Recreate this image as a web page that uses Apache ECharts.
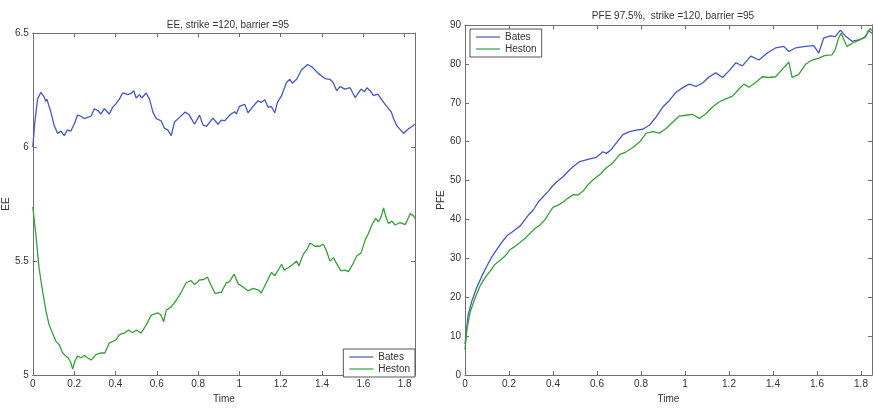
<!DOCTYPE html>
<html>
<head>
<meta charset="utf-8">
<script src="https://cdn.jsdelivr.net/npm/echarts@6/dist/echarts.min.js"></script>
<style>
  html, body { margin: 0; padding: 0; background: #fff; }
  #chart { width: 874px; height: 409px; }
</style>
</head>
<body>
<div id="chart"></div>
<script>
// tick values
const timeTicks = [0, 0.2, 0.4, 0.6, 0.8, 1, 1.2, 1.4, 1.6, 1.8];
const eeTicks = [5, 5.5, 6, 6.5];
const pfeTicks = [0, 10, 20, 30, 40, 50, 60, 70, 80, 90];
const seriesNames = ['Bates', 'Heston'];

// EE, [time, value]
const eeBates = [[0,6.00],[0.01,6.11],[0.023,6.21],[0.039,6.24],[0.055,6.22],[0.062,6.20],[0.068,6.21],[0.087,6.155],[0.103,6.096],[0.12,6.06],[0.136,6.07],[0.152,6.05],[0.168,6.075],[0.184,6.07],[0.2,6.10],[0.217,6.14],[0.233,6.135],[0.249,6.125],[0.265,6.13],[0.282,6.135],[0.298,6.168],[0.314,6.16],[0.33,6.145],[0.346,6.168],[0.37,6.145],[0.387,6.175],[0.403,6.19],[0.419,6.21],[0.435,6.237],[0.46,6.23],[0.475,6.235],[0.489,6.247],[0.5,6.215],[0.516,6.23],[0.527,6.215],[0.549,6.237],[0.565,6.21],[0.581,6.154],[0.597,6.125],[0.621,6.115],[0.637,6.082],[0.653,6.075],[0.67,6.05],[0.686,6.11],[0.71,6.13],[0.738,6.154],[0.758,6.14],[0.783,6.10],[0.807,6.14],[0.824,6.097],[0.84,6.09],[0.872,6.127],[0.896,6.10],[0.913,6.118],[0.929,6.115],[0.953,6.14],[0.977,6.155],[0.985,6.145],[1.0,6.178],[1.026,6.187],[1.042,6.15],[1.066,6.178],[1.09,6.203],[1.106,6.196],[1.123,6.207],[1.139,6.174],[1.155,6.178],[1.171,6.15],[1.184,6.196],[1.204,6.225],[1.228,6.283],[1.244,6.297],[1.256,6.28],[1.277,6.297],[1.30,6.338],[1.33,6.362],[1.35,6.352],[1.382,6.323],[1.414,6.30],[1.438,6.297],[1.454,6.283],[1.471,6.247],[1.487,6.265],[1.511,6.254],[1.536,6.26],[1.56,6.217],[1.589,6.254],[1.605,6.242],[1.617,6.26],[1.633,6.247],[1.649,6.225],[1.67,6.232],[1.698,6.196],[1.722,6.168],[1.735,6.154],[1.746,6.125],[1.762,6.093],[1.795,6.06],[1.819,6.08],[1.835,6.09],[1.85,6.10]];
const eeHeston = [[0,5.737],[0.015,5.615],[0.03,5.471],[0.047,5.37],[0.063,5.284],[0.079,5.22],[0.096,5.184],[0.112,5.148],[0.128,5.133],[0.144,5.098],[0.16,5.083],[0.171,5.076],[0.184,5.055],[0.193,5.026],[0.204,5.062],[0.217,5.083],[0.233,5.076],[0.249,5.086],[0.265,5.076],[0.282,5.066],[0.306,5.09],[0.33,5.097],[0.349,5.097],[0.37,5.141],[0.387,5.148],[0.403,5.155],[0.419,5.177],[0.443,5.184],[0.463,5.198],[0.482,5.187],[0.502,5.198],[0.524,5.184],[0.549,5.22],[0.573,5.263],[0.605,5.273],[0.621,5.263],[0.633,5.234],[0.646,5.284],[0.67,5.299],[0.694,5.327],[0.718,5.363],[0.743,5.406],[0.767,5.414],[0.783,5.397],[0.807,5.417],[0.83,5.42],[0.845,5.43],[0.864,5.392],[0.883,5.357],[0.903,5.363],[0.913,5.363],[0.937,5.406],[0.953,5.41],[0.974,5.443],[0.994,5.40],[1.018,5.386],[1.042,5.369],[1.066,5.38],[1.09,5.374],[1.106,5.36],[1.131,5.406],[1.155,5.45],[1.171,5.436],[1.191,5.465],[1.204,5.486],[1.217,5.46],[1.236,5.471],[1.26,5.486],[1.277,5.50],[1.288,5.478],[1.309,5.529],[1.33,5.555],[1.341,5.579],[1.366,5.565],[1.39,5.565],[1.406,5.575],[1.422,5.543],[1.438,5.50],[1.455,5.514],[1.471,5.489],[1.492,5.457],[1.511,5.46],[1.528,5.454],[1.547,5.483],[1.568,5.522],[1.589,5.536],[1.609,5.593],[1.625,5.622],[1.641,5.658],[1.66,5.687],[1.673,5.672],[1.686,5.694],[1.698,5.733],[1.709,5.694],[1.722,5.665],[1.738,5.675],[1.754,5.658],[1.778,5.669],[1.803,5.66],[1.827,5.708],[1.843,5.698],[1.85,5.687]];

// PFE 97.5%, [time, value]
const pfeBates = [[0,8],[0.005,10.4],[0.014,15.4],[0.032,19.2],[0.054,22.6],[0.077,25.5],[0.1,28.1],[0.122,30.4],[0.145,32.3],[0.167,34.1],[0.19,35.8],[0.213,36.7],[0.235,37.7],[0.25,38.3],[0.265,39.4],[0.288,41.1],[0.311,42.5],[0.333,44.5],[0.356,45.9],[0.379,47.3],[0.401,48.8],[0.424,50.0],[0.446,51.0],[0.469,52.4],[0.492,53.6],[0.522,54.9],[0.567,55.6],[0.597,56.0],[0.627,57.4],[0.643,57.0],[0.665,58.0],[0.688,59.7],[0.718,61.8],[0.748,62.6],[0.778,63.0],[0.808,63.2],[0.839,64.3],[0.869,66.4],[0.899,68.9],[0.929,70.6],[0.959,72.7],[0.99,73.9],[1.02,74.8],[1.05,74.2],[1.08,75.1],[1.11,76.7],[1.14,77.7],[1.171,76.5],[1.2,78.2],[1.231,80.3],[1.261,79.5],[1.299,82.0],[1.336,81.0],[1.374,82.8],[1.412,84.1],[1.449,84.5],[1.472,83.2],[1.502,84.1],[1.548,84.5],[1.585,84.7],[1.608,82.8],[1.63,86.6],[1.66,87.2],[1.683,87.0],[1.706,88.7],[1.729,87.2],[1.759,85.8],[1.789,86.2],[1.819,86.8],[1.834,88.6],[1.85,87.9]];
const pfeHeston = [[0,6.5],[0.009,12.0],[0.024,16.3],[0.047,20.0],[0.069,23.0],[0.092,25.1],[0.115,26.8],[0.137,28.5],[0.16,29.5],[0.182,30.6],[0.205,32.3],[0.228,33.1],[0.25,34.1],[0.273,35.2],[0.296,36.5],[0.318,37.7],[0.341,38.6],[0.363,39.9],[0.386,42.0],[0.401,43.2],[0.424,43.7],[0.446,44.5],[0.469,45.5],[0.492,46.4],[0.514,46.3],[0.537,47.3],[0.56,49.0],[0.59,50.6],[0.612,51.5],[0.643,53.3],[0.673,54.6],[0.703,56.7],[0.733,57.4],[0.763,58.5],[0.793,59.9],[0.824,62.2],[0.854,62.6],[0.884,62.2],[0.914,63.4],[0.944,65.0],[0.974,66.6],[1.005,66.8],[1.035,67.0],[1.065,66.0],[1.095,67.2],[1.125,68.9],[1.155,70.2],[1.186,71.0],[1.216,71.7],[1.246,73.6],[1.268,74.8],[1.291,74.0],[1.321,75.2],[1.351,76.7],[1.381,76.5],[1.412,76.7],[1.442,78.6],[1.472,80.5],[1.487,76.5],[1.517,77.3],[1.548,79.9],[1.578,81.0],[1.608,81.5],[1.638,82.2],[1.668,82.3],[1.683,83.7],[1.698,86.6],[1.71,87.9],[1.722,86.3],[1.736,84.5],[1.766,85.5],[1.796,86.2],[1.819,87.0],[1.842,89.1],[1.85,88.6]];

const FONT = 'Liberation Sans';
const AXIS_COLOR = '#707070';
const TEXT_COLOR = '#333';
const BLUE = '#4656c4';
const GREEN = '#37a038';

function boxAxis(kind, grid, position, ticks, min, max, showLabels, name, nameGap) {
  return {
    type: 'value',
    gridIndex: grid,
    position: position,
    min: min,
    max: max,
    name: name || '',
    nameLocation: 'middle',
    nameGap: nameGap || 0,
    nameRotate: kind === 'y' ? 90 : 0,
    nameTextStyle: { fontFamily: FONT, fontSize: 10, color: TEXT_COLOR },
    splitLine: { show: false },
    axisLine: { show: true, onZero: false, lineStyle: { color: AXIS_COLOR, width: 1 } },
    axisTick: { show: true, inside: true, length: 4, customValues: ticks, lineStyle: { color: AXIS_COLOR } },
    axisLabel: {
      show: showLabels, customValues: ticks, margin: 4,
      fontFamily: FONT, fontSize: 10, color: TEXT_COLOR
    }
  };
}

function lineSeries(name, data, color, xi, yi) {
  return {
    name: name, type: 'line', data: data,
    xAxisIndex: xi, yAxisIndex: yi,
    symbol: 'none', animation: false,
    lineStyle: { color: color, width: 1.3 },
    itemStyle: { color: color }
  };
}

function legendBox(extra) {
  return Object.assign({
    orient: 'vertical',
    data: seriesNames,
    icon: 'path://M0,0H28V1.4H0Z',
    itemWidth: 24, itemHeight: 1.4, itemGap: 2,
    padding: [3, 5, 3, 6],
    backgroundColor: '#fff',
    borderColor: '#555', borderWidth: 1, borderRadius: 0,
    textStyle: { fontFamily: FONT, fontSize: 10, color: TEXT_COLOR }
  }, extra);
}

const chart = echarts.init(document.getElementById('chart'));
chart.setOption({
  backgroundColor: '#fff',
  animation: false,
  title: [
    { text: 'EE, strike =120, barrier =95', left: 223, top: 15, textAlign: 'center',
      textStyle: { fontFamily: FONT, fontSize: 10, fontWeight: 'normal', color: TEXT_COLOR } },
    { text: 'PFE 97.5%,  strike =120, barrier =95', left: 668, top: 6, textAlign: 'center',
      textStyle: { fontFamily: FONT, fontSize: 10, fontWeight: 'normal', color: TEXT_COLOR } }
  ],
  grid: [
    { left: 32, top: 33, width: 383, height: 348 },
    { left: 465, top: 25, width: 407, height: 356 }
  ],
  xAxis: [
    boxAxis('x', 0, 'bottom', timeTicks, 0, 1.85, true, 'Time', 14),
    boxAxis('x', 0, 'top', timeTicks, 0, 1.85, false),
    boxAxis('x', 1, 'bottom', timeTicks, 0, 1.85, true, 'Time', 14),
    boxAxis('x', 1, 'top', timeTicks, 0, 1.85, false)
  ],
  yAxis: [
    boxAxis('y', 0, 'left', eeTicks, 5, 6.5, true, 'EE', 21),
    boxAxis('y', 0, 'right', eeTicks, 5, 6.5, false),
    boxAxis('y', 1, 'left', pfeTicks, 0, 90, true, 'PFE', 19),
    boxAxis('y', 1, 'right', pfeTicks, 0, 90, false)
  ],
  legend: [
    legendBox({ right: 459, bottom: 32 }),
    legendBox({ left: 470, top: 29 })
  ],
  series: [
    lineSeries('Bates', eeBates, BLUE, 0, 0),
    lineSeries('Heston', eeHeston, GREEN, 0, 0),
    lineSeries('Bates', pfeBates, BLUE, 2, 2),
    lineSeries('Heston', pfeHeston, GREEN, 2, 2)
  ]
});
</script>
</body>
</html>
